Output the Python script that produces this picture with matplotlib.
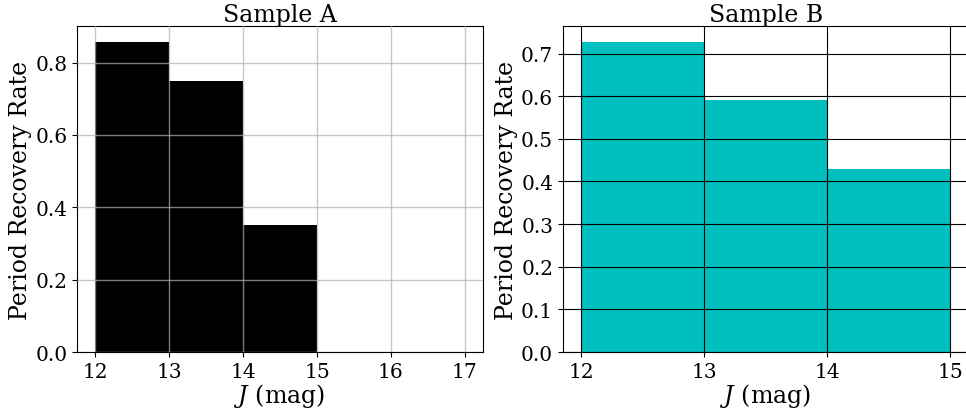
import matplotlib
matplotlib.use("Agg")
import matplotlib.pyplot as plt

# Bordes de los bins en J (mag) y tasas de recuperacion
edges_a = [12, 13, 14, 15, 16, 17]
rates_a = [0.858, 0.750, 0.352, 0.0, 0.0]

edges_b = [12, 13, 14, 15]
rates_b = [0.728, 0.590, 0.430]

plt.rcParams["font.family"] = "DejaVu Serif"
plt.rcParams["mathtext.fontset"] = "dejavuserif"

fig, (ax_a, ax_b) = plt.subplots(1, 2, figsize=(9.66, 4.1), dpi=100)
fig.subplots_adjust(left=0.0797, right=1.003, bottom=0.139, top=0.934, wspace=0.197)

# Sample A
ax_a.hist(edges_a[:-1], bins=edges_a, weights=rates_a, color="k")
ax_a.set_axisbelow(False)
ax_a.grid(True, color="#b0b0b0", alpha=0.7, linewidth=1.0)
ax_a.set_title("Sample A", fontsize=17, pad=3)
ax_a.set_xlabel(r"$J$ (mag)", fontsize=17, labelpad=0)
ax_a.set_ylabel("Period Recovery Rate", fontsize=17, labelpad=2)
ax_a.set_xticks(edges_a)
ax_a.tick_params(labelsize=14.5)

# Sample B
ax_b.hist(edges_b[:-1], bins=edges_b, weights=rates_b, color="c")
ax_b.set_axisbelow(False)
ax_b.grid(True, color="k", linewidth=0.8)
ax_b.set_title("Sample B", fontsize=17, pad=3)
ax_b.set_xlabel(r"$J$ (mag)", fontsize=17, labelpad=0)
ax_b.set_ylabel("Period Recovery Rate", fontsize=17, labelpad=2)
ax_b.set_xticks(edges_b)
ax_b.tick_params(labelsize=14.5)

fig.savefig("out.png", dpi=100)
